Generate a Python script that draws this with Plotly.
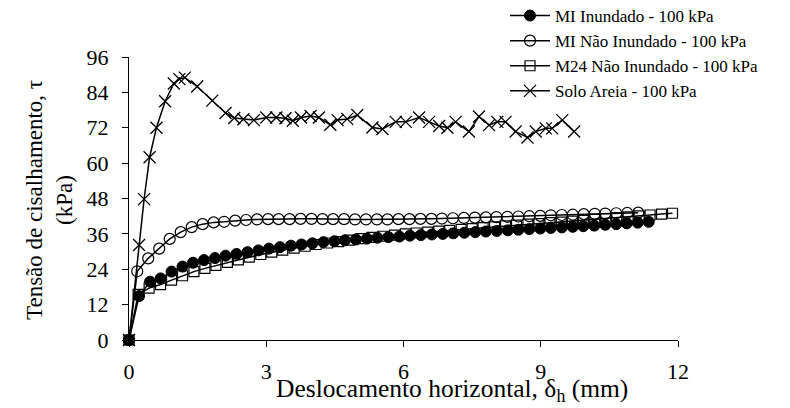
import plotly.graph_objects as go

# ---- data ----
mi_inund_x = [0, 0.22, 0.46, 0.69, 0.93, 1.17, 1.40, 1.64, 1.88, 2.11, 2.35, 2.59, 2.83, 3.06, 3.30,
              3.54, 3.77, 4.01, 4.25, 4.49, 4.72, 4.96, 5.20, 5.43, 5.67, 5.91, 6.14, 6.38, 6.62, 6.86,
              7.09, 7.33, 7.57, 7.80, 8.04, 8.28, 8.51, 8.75, 8.99, 9.22, 9.46, 9.70, 9.93, 10.17,
              10.41, 10.65, 10.88, 11.12, 11.36]
mi_inund_y = [0, 14.9, 19.8, 20.9, 23.2, 24.9, 26.2, 27.1, 27.8, 28.6, 29.2, 29.8, 30.4, 31.0, 31.5,
              32.0, 32.4, 32.8, 33.2, 33.5, 33.8, 34.1, 34.4, 34.7, 34.9, 35.1, 35.4, 35.6, 35.8, 36.0,
              36.2, 36.4, 36.6, 36.8, 37.0, 37.2, 37.4, 37.6, 37.8, 38.0, 38.2, 38.4, 38.6, 38.8,
              39.1, 39.3, 39.6, 39.8, 40.1]

mi_nao_x = [0, 0.18, 0.42, 0.66, 0.89, 1.13, 1.37, 1.61, 1.85, 2.08, 2.32, 2.56, 2.80, 3.04, 3.27,
            3.51, 3.75, 3.99, 4.23, 4.46, 4.70, 4.94, 5.18, 5.42, 5.65, 5.89, 6.13, 6.37, 6.61, 6.84,
            7.08, 7.32, 7.56, 7.80, 8.03, 8.27, 8.51, 8.75, 8.99, 9.22, 9.46, 9.70, 9.94, 10.18,
            10.41, 10.65, 10.89, 11.13]
mi_nao_y = [0, 23.3, 27.7, 31.0, 34.3, 36.6, 38.3, 39.3, 39.9, 40.1, 40.5, 40.7, 40.9, 41.0, 41.0,
            41.0, 41.1, 41.1, 41.0, 41.0, 41.0, 40.9, 40.9, 40.9, 40.9, 41.0, 41.0, 41.1, 41.1, 41.2,
            41.3, 41.4, 41.5, 41.6, 41.7, 41.8, 41.9, 42.0, 42.1, 42.3, 42.4, 42.5, 42.7, 42.8,
            42.9, 43.0, 43.1, 43.2]

m24_x = [0, 0.20, 0.44, 0.69, 0.93, 1.17, 1.42, 1.66, 1.90, 2.15, 2.39, 2.63, 2.88, 3.12, 3.36,
         3.61, 3.85, 4.09, 4.34, 4.58, 4.82, 5.07, 5.31, 5.55, 5.80, 6.04, 6.28, 6.53, 6.77, 7.01,
         7.26, 7.50, 7.74, 7.99, 8.23, 8.47, 8.72, 8.96, 9.20, 9.45, 9.69, 9.93, 10.18, 10.42,
         10.66, 10.91, 11.15, 11.39, 11.64, 11.88]
m24_y = [0, 15.5, 17.6, 18.8, 20.3, 21.8, 23.2, 24.3, 25.3, 26.3, 27.2, 28.1, 29.0, 29.8, 30.5,
         31.2, 31.8, 32.4, 32.9, 33.4, 33.9, 34.4, 34.8, 35.2, 35.6, 36.0, 36.3, 36.6, 36.9, 37.2,
         37.5, 37.8, 38.1, 38.4, 38.7, 39.0, 39.3, 39.5, 39.8, 40.0, 40.3, 40.6, 40.9, 41.2,
         41.5, 41.8, 42.1, 42.4, 42.7, 43.0]

areia_x = [0, 0.22, 0.33, 0.45, 0.60, 0.79, 0.98, 1.10, 1.22, 1.49, 1.82, 2.11, 2.30, 2.50, 2.73,
           3.00, 3.22, 3.42, 3.58, 3.76, 3.97, 4.15, 4.40, 4.56, 4.77, 4.99, 5.32, 5.54, 5.83,
           6.05, 6.34, 6.56, 6.78, 6.96, 7.14, 7.43, 7.65, 7.87, 8.05, 8.23, 8.45, 8.71, 8.89,
           9.11, 9.25, 9.47, 9.73]
areia_y = [0, 32.2, 47.8, 62.0, 72.0, 81.0, 87.0, 88.5, 89.0, 86.0, 81.2, 77.0, 75.3, 74.9, 74.6,
           75.5, 75.5, 75.2, 74.4, 75.5, 76.0, 75.5, 73.0, 74.6, 75.0, 76.3, 72.1, 71.6, 74.0,
           74.0, 75.5, 74.0, 72.6, 72.0, 74.0, 70.7, 75.8, 72.9, 74.0, 74.0, 70.7, 68.7, 70.7,
           71.8, 71.8, 74.6, 70.7]

x_ticks = [0, 3, 6, 9, 12]
y_ticks = [0, 12, 24, 36, 48, 60, 72, 84, 96]

FONT = "Liberation Serif"
BLACK = "#000000"

fig = go.Figure()
fig.add_trace(go.Scatter(x=mi_inund_x, y=mi_inund_y, mode="lines+markers",
                         name="MI Inundado - 100 kPa", cliponaxis=False,
                         line=dict(color=BLACK, width=1.5),
                         marker=dict(symbol="circle", size=11, color=BLACK,
                                     line=dict(color=BLACK, width=1))))
fig.add_trace(go.Scatter(x=mi_nao_x, y=mi_nao_y, mode="lines+markers",
                         name="MI Não Inundado - 100 kPa", cliponaxis=False,
                         line=dict(color=BLACK, width=1.5),
                         marker=dict(symbol="circle-open", size=11, color=BLACK,
                                     line=dict(color=BLACK, width=1.2))))
fig.add_trace(go.Scatter(x=m24_x, y=m24_y, mode="lines+markers",
                         name="M24 Não Inundado - 100 kPa", cliponaxis=False,
                         line=dict(color=BLACK, width=1.5),
                         marker=dict(symbol="square-open", size=10, color=BLACK,
                                     line=dict(color=BLACK, width=1.2))))
fig.add_trace(go.Scatter(x=areia_x, y=areia_y, mode="lines+markers",
                         name="Solo Areia - 100 kPa", cliponaxis=False,
                         line=dict(color=BLACK, width=1.5),
                         marker=dict(symbol="x-thin-open", size=12, color=BLACK,
                                     line=dict(color=BLACK, width=1.3))))

# the page body adds an 8px offset; px_x / px_y take screen pixels of the reference
OFF = 8
W, H = 790, 408
L = 129 - OFF
R = W - (678 - OFF)
T = 57 - OFF
B = H - (340 - OFF)
pw = W - L - R
ph = H - T - B

def px_x(p):
    return (p - OFF - L) / pw

def px_y(p):
    return (H - B - (p - OFF)) / ph

fig.update_layout(
    width=W, height=H,
    margin=dict(l=L, r=R, t=T, b=B, pad=0, autoexpand=False),
    paper_bgcolor="white", plot_bgcolor="white",
    font=dict(family=FONT, color=BLACK, size=22),
    showlegend=True,
    legend=dict(x=px_x(505), y=px_y(-2), xanchor="left", yanchor="top",
                font=dict(family=FONT, size=17, color=BLACK),
                bgcolor="rgba(0,0,0,0)", itemwidth=40, tracegroupgap=0),
    xaxis=dict(range=[0, 12], tickvals=x_ticks, ticktext=[str(v) for v in x_ticks],
               showgrid=False, zeroline=False, showline=True, linecolor=BLACK, linewidth=1.3,
               ticks="outside", ticklen=6, tickwidth=1.3, tickcolor=BLACK,
               ticklabelstandoff=5,
               tickfont=dict(family=FONT, size=22, color=BLACK)),
    yaxis=dict(range=[0, 96], tickvals=y_ticks, ticktext=[str(v) for v in y_ticks],
               showgrid=False, zeroline=False, showline=True, linecolor=BLACK, linewidth=1.3,
               ticks="outside", ticklen=6, tickwidth=1.3, tickcolor=BLACK,
               ticklabelstandoff=9,
               tickfont=dict(family=FONT, size=22, color=BLACK)),
    annotations=[
        dict(text="Deslocamento horizontal, δ<sub>h</sub> (mm)", xref="paper", yref="paper",
             x=px_x(452), y=px_y(390), xanchor="center", yanchor="middle", showarrow=False,
             font=dict(family=FONT, size=25.5, color=BLACK)),
        dict(text="Tensão de cisalhamento, τ", xref="paper", yref="paper",
             x=px_x(34), y=px_y(200), xanchor="center", yanchor="middle", showarrow=False,
             textangle=-90, font=dict(family=FONT, size=23, color=BLACK)),
        dict(text="(kPa)", xref="paper", yref="paper",
             x=px_x(64), y=px_y(200), xanchor="center", yanchor="middle", showarrow=False,
             textangle=-90, font=dict(family=FONT, size=23, color=BLACK)),
    ],
)

fig.write_html("out.html")
